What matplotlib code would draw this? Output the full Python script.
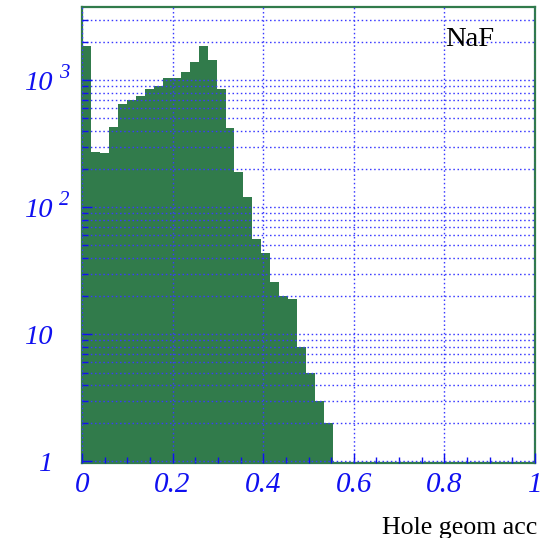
import numpy as np
import matplotlib; matplotlib.use("Agg")
import matplotlib.pyplot as plt
from matplotlib.ticker import LogLocator, NullFormatter, MultipleLocator

# Hole geometrical acceptance, NaF radiator; 50 bins over 0-0.99, only the filled ones listed
bin_width = 0.0198
counts = [1872, 271, 268, 431, 651, 700, 748, 854, 907, 1035, 1040, 1162, 1401, 1866,
          1445, 849, 419, 190, 121, 56, 44, 26, 20, 19, 8, 5, 3, 2]
edges = np.arange(len(counts) + 1) * bin_width

xticks = [0, 0.2, 0.4, 0.6, 0.8, 1.0]
xlabels = ["0", "0.2", "0.4", "0.6", "0.8", "1"]
ydecades = [1, 10, 100, 1000]
ybase = ["1", "10", "10", "10"]
yexp = ["", "", "2", "3"]

GREEN = "#317b4b"
BLUE = "#1010f0"
GRID = "#3a3aff"
SERIF = "Liberation Serif"

fig = plt.figure(figsize=(5.45, 5.38), dpi=100)
ax = fig.add_axes([82/545, 1 - 463/538, (535 - 82)/545, (463 - 7.3)/538])

ax.stairs(counts, edges, fill=True, color=GREEN, zorder=1)
ax.set_yscale("log")
ax.set_xlim(0, 1)
ax.set_ylim(0.97, 3750)

ax.set_axisbelow(False)
ax.yaxis.set_major_locator(LogLocator(base=10, numticks=10))
ax.yaxis.set_minor_locator(LogLocator(base=10, subs=np.arange(2, 10), numticks=20))
ax.yaxis.set_major_formatter(NullFormatter())
ax.yaxis.set_minor_formatter(NullFormatter())
ax.xaxis.set_minor_locator(MultipleLocator(0.05))
ax.set_xticks(xticks, labels=xlabels, fontsize=21, fontfamily=SERIF,
              fontstyle="italic", color=BLUE)

gridkw = dict(color=GRID, lw=1.0, ls=(0, (1.1, 1.9)))
ax.grid(True, which="major", axis="x", **gridkw)
ax.grid(True, which="both", axis="y", **gridkw)

ax.tick_params(axis="both", which="major", direction="in", length=7.5, width=1.0,
               color=BLUE, top=False, right=False)
ax.tick_params(axis="both", which="minor", direction="in", length=4.5, width=1.0,
               color=BLUE, top=False, right=False)
ax.tick_params(axis="x", which="major", pad=6.5)

for s in ax.spines.values():
    s.set_color(GREEN)
    s.set_linewidth(1.6)

# log axis labels drawn as base + raised exponent
for v, b, e in zip(ydecades, ybase, yexp):
    ax.annotate(b, xy=(0, v), xycoords=("axes fraction", "data"),
                xytext=(-29, -9.5), textcoords="offset pixels",
                ha="right", va="baseline", fontsize=20.5, fontfamily=SERIF,
                fontstyle="italic", color=BLUE, annotation_clip=False)
    if e:
        ax.annotate(e, xy=(0, v), xycoords=("axes fraction", "data"),
                    xytext=(-23, 2.5), textcoords="offset pixels",
                    ha="left", va="baseline", fontsize=15, fontfamily=SERIF,
                    fontstyle="italic", color=BLUE, annotation_clip=False)

fig.text(494/545, 1 - 46/538, "NaF", ha="right", va="baseline",
         fontsize=20.5, fontfamily=SERIF, color="black")
fig.text(537/545, 1 - 534/538, "Hole geom acc", ha="right", va="baseline",
         fontsize=18.6, fontfamily=SERIF, color="black")

fig.savefig("out.png", dpi=100)
